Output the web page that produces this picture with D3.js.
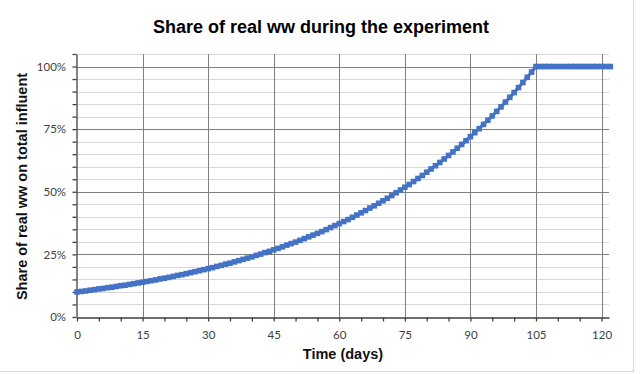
<!DOCTYPE html>
<html>
<head>
<meta charset="utf-8">
<script src="https://cdn.jsdelivr.net/npm/d3@7"></script>
<style>
body { margin: 0; background: #fff; }
svg { display: block; }
</style>
</head>
<body>
<div id="chart"></div>
<script>
// share of real ww (%) read per day, days 0..122
const share = [
  10.0, 10.2, 10.4, 10.7, 10.9, 11.2, 11.4, 11.7, 11.9, 12.2,
  12.5, 12.7, 13.0, 13.3, 13.6, 13.9, 14.2, 14.5, 14.8, 15.2,
  15.5, 15.8, 16.2, 16.6, 16.9, 17.3, 17.7, 18.1, 18.5, 18.9,
  19.3, 19.7, 20.2, 20.6, 21.1, 21.5, 22.0, 22.5, 23.0, 23.5,
  24.0, 24.6, 25.1, 25.7, 26.2, 26.8, 27.4, 28.0, 28.7, 29.3,
  29.9, 30.6, 31.3, 32.0, 32.7, 33.4, 34.1, 34.9, 35.7, 36.5,
  37.3, 38.1, 38.9, 39.8, 40.7, 41.6, 42.5, 43.5, 44.4, 45.4,
  46.4, 47.4, 48.5, 49.6, 50.7, 51.8, 52.9, 54.1, 55.3, 56.5,
  57.8, 59.1, 60.4, 61.7, 63.1, 64.5, 65.9, 67.4, 68.9, 70.4,
  72.0, 73.6, 75.2, 76.9, 78.6, 80.3, 82.1, 83.9, 85.8, 87.7,
  89.6, 91.6, 93.6, 95.7, 97.8, 100, 100, 100, 100, 100,
  100, 100, 100, 100, 100, 100, 100, 100, 100, 100,
  100, 100, 100
]
const days = share.map((v, i) => i)
const xTicks = [0, 15, 30, 45, 60, 75, 90, 105, 120]
const yTicks = [0, 25, 50, 75, 100]

const width = 640, height = 374
const margin = { left: 77, right: 31, top: 54, bottom: 57 }

let svg = d3.select('#chart').append('svg')
    .attr('width', width)
    .attr('height', height)

// outer chart border (only right/bottom edges fall inside the frame)
svg.append('rect')
    .attr('x', -10).attr('y', -10)
    .attr('width', 643.5).attr('height', 381.5)
    .attr('fill', 'none')
    .attr('stroke', '#d9d9d9')

let x = d3.scaleLinear()
    .domain([0, 121.7])
    .range([margin.left, width - margin.right])

let y = d3.scaleLinear()
    .domain([0, 105])
    .range([height - margin.bottom, margin.top])

let grid = svg.append('g')

// minor horizontal grid every 5%
grid.selectAll('line.minor')
    .data(d3.range(5, 106, 5).filter(v => v % 25 != 0))
    .enter()
    .append('line')
        .attr('class', 'minor')
        .attr('x1', x(0)).attr('x2', x.range()[1])
        .attr('y1', d => Math.round(y(d)) + 0.5)
        .attr('y2', d => Math.round(y(d)) + 0.5)
        .attr('stroke', '#d9d9d9')
        .attr('stroke-width', 1)

grid.selectAll('line.major')
    .data(yTicks.filter(v => v > 0))
    .enter()
    .append('line')
        .attr('class', 'major')
        .attr('x1', x(0)).attr('x2', x.range()[1])
        .attr('y1', d => Math.round(y(d)) + 0.5)
        .attr('y2', d => Math.round(y(d)) + 0.5)
        .attr('stroke', '#7f7f7f')
        .attr('stroke-width', 1)

grid.selectAll('line.vert')
    .data(xTicks.filter(v => v > 0))
    .enter()
    .append('line')
        .attr('class', 'vert')
        .attr('x1', d => Math.round(x(d)) + 0.5)
        .attr('x2', d => Math.round(x(d)) + 0.5)
        .attr('y1', y(105)).attr('y2', y(0))
        .attr('stroke', '#7f7f7f')
        .attr('stroke-width', 1)

// axes
let xAxis = d3.axisBottom(x)
    .tickValues(d3.range(0, 121, 5))
    .tickSize(4)
    .tickSizeOuter(0)
    .tickFormat(d => xTicks.includes(d) ? d : '')

let yAxis = d3.axisLeft(y)
    .tickValues(d3.range(0, 106, 5))
    .tickSize(4)
    .tickSizeOuter(0)
    .tickFormat(d => yTicks.includes(d) ? d + '%' : '')

let gx = svg.append('g')
    .attr('transform', `translate(0,${Math.round(y(0)) + 0.5})`)
    .call(xAxis)
let gy = svg.append('g')
    .attr('transform', `translate(${Math.round(x(0)) - 0.5},0)`)
    .call(yAxis)

for (let g of [gx, gy]) {
    g.select('.domain').attr('stroke', '#404040').attr('stroke-width', 1.3)
    g.selectAll('.tick line').attr('stroke', '#404040').attr('stroke-width', 1.3)
    g.selectAll('.tick text')
        .attr('fill', '#404040')
        .attr('font-family', 'Lato, "Open Sans", sans-serif')
        .attr('font-size', 11.5)
}
gx.selectAll('.tick text').attr('dy', '1.25em')
gy.selectAll('.tick text').attr('dx', '-0.3em')

// series
let line = d3.line()
    .x((d, i) => x(days[i]))
    .y(d => y(d))

svg.append('path')
    .datum(share)
    .attr('fill', 'none')
    .attr('stroke', '#4472c4')
    .attr('stroke-width', 3.2)
    .attr('d', line)

svg.append('g')
    .selectAll('rect')
    .data(share)
    .enter()
    .append('rect')
        .attr('x', (d, i) => x(days[i]) - 2.8)
        .attr('y', d => y(d) - 2.8)
        .attr('width', 5.6)
        .attr('height', 5.6)
        .attr('fill', '#4472c4')

// titles
svg.append('text')
    .attr('x', 321)
    .attr('y', 33)
    .attr('text-anchor', 'middle')
    .attr('font-family', '"Liberation Sans", Arial, sans-serif')
    .attr('font-weight', 'bold')
    .attr('font-size', 18)
    .attr('fill', '#000')
    .text('Share of real ww during the experiment')

svg.append('text')
    .attr('x', (x(0) + x.range()[1]) / 2)
    .attr('y', 359)
    .attr('text-anchor', 'middle')
    .attr('font-family', '"Liberation Sans", Arial, sans-serif')
    .attr('font-weight', 'bold')
    .attr('font-size', 14.5)
    .attr('fill', '#111')
    .text('Time (days)')

svg.append('text')
    .attr('transform', `translate(27,${(y(0) + y(105)) / 2 + 1}) rotate(-90)`)
    .attr('text-anchor', 'middle')
    .attr('font-family', '"Liberation Sans", Arial, sans-serif')
    .attr('font-weight', 'bold')
    .attr('font-size', 14.5)
    .attr('fill', '#111')
    .text('Share of real ww on total influent')
</script>
</body>
</html>
